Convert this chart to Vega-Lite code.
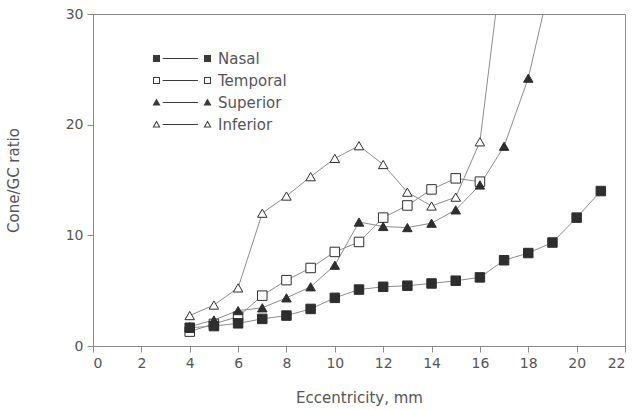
{
  "$schema": "https://vega.github.io/schema/vega-lite/v6.json",
  "width": 532,
  "height": 332,
  "autosize": {"type": "none"},
  "padding": {"left": 93, "top": 14, "right": 9, "bottom": 64},
  "background": "white",
  "config": {
    "font": "DejaVu Sans",
    "view": {"stroke": "#8a8a8a", "strokeWidth": 1},
    "axis": {
      "domainColor": "#8a8a8a",
      "tickColor": "#8a8a8a",
      "labelColor": "#555555",
      "titleColor": "#555555",
      "labelFontSize": 14,
      "titleFontSize": 15,
      "labelFont": "DejaVu Sans",
      "titleFont": "DejaVu Sans",
      "titleFontWeight": "normal",
      "grid": false,
      "tickSize": 6
    }
  },
  "data": {
    "values": [
      {"series": "Inferior", "eccentricity": 4, "ratio": 2.75},
      {"series": "Inferior", "eccentricity": 5, "ratio": 3.7},
      {"series": "Inferior", "eccentricity": 6, "ratio": 5.25},
      {"series": "Inferior", "eccentricity": 7, "ratio": 12.0},
      {"series": "Inferior", "eccentricity": 8, "ratio": 13.55},
      {"series": "Inferior", "eccentricity": 9, "ratio": 15.3},
      {"series": "Inferior", "eccentricity": 10, "ratio": 16.95},
      {"series": "Inferior", "eccentricity": 11, "ratio": 18.1},
      {"series": "Inferior", "eccentricity": 12, "ratio": 16.4},
      {"series": "Inferior", "eccentricity": 13, "ratio": 13.9},
      {"series": "Inferior", "eccentricity": 14, "ratio": 12.65},
      {"series": "Inferior", "eccentricity": 15, "ratio": 13.45},
      {"series": "Inferior", "eccentricity": 16, "ratio": 18.45},
      {"series": "Inferior", "eccentricity": 17, "ratio": 36.2},
      {"series": "Temporal", "eccentricity": 4, "ratio": 1.3},
      {"series": "Temporal", "eccentricity": 5, "ratio": 2.0},
      {"series": "Temporal", "eccentricity": 6, "ratio": 2.65},
      {"series": "Temporal", "eccentricity": 7, "ratio": 4.55},
      {"series": "Temporal", "eccentricity": 8, "ratio": 5.95},
      {"series": "Temporal", "eccentricity": 9, "ratio": 7.05},
      {"series": "Temporal", "eccentricity": 10, "ratio": 8.5},
      {"series": "Temporal", "eccentricity": 11, "ratio": 9.4},
      {"series": "Temporal", "eccentricity": 12, "ratio": 11.6},
      {"series": "Temporal", "eccentricity": 13, "ratio": 12.7},
      {"series": "Temporal", "eccentricity": 14, "ratio": 14.15},
      {"series": "Temporal", "eccentricity": 15, "ratio": 15.15},
      {"series": "Temporal", "eccentricity": 16, "ratio": 14.85},
      {"series": "Superior", "eccentricity": 4, "ratio": 1.75},
      {"series": "Superior", "eccentricity": 5, "ratio": 2.35},
      {"series": "Superior", "eccentricity": 6, "ratio": 3.2},
      {"series": "Superior", "eccentricity": 7, "ratio": 3.45},
      {"series": "Superior", "eccentricity": 8, "ratio": 4.35},
      {"series": "Superior", "eccentricity": 9, "ratio": 5.35},
      {"series": "Superior", "eccentricity": 10, "ratio": 7.3},
      {"series": "Superior", "eccentricity": 11, "ratio": 11.2},
      {"series": "Superior", "eccentricity": 12, "ratio": 10.8},
      {"series": "Superior", "eccentricity": 13, "ratio": 10.7},
      {"series": "Superior", "eccentricity": 14, "ratio": 11.1},
      {"series": "Superior", "eccentricity": 15, "ratio": 12.3},
      {"series": "Superior", "eccentricity": 16, "ratio": 14.55},
      {"series": "Superior", "eccentricity": 17, "ratio": 18.05},
      {"series": "Superior", "eccentricity": 18, "ratio": 24.2},
      {"series": "Superior", "eccentricity": 19, "ratio": 33.7},
      {"series": "Nasal", "eccentricity": 4, "ratio": 1.65},
      {"series": "Nasal", "eccentricity": 5, "ratio": 1.8},
      {"series": "Nasal", "eccentricity": 6, "ratio": 2.05},
      {"series": "Nasal", "eccentricity": 7, "ratio": 2.45},
      {"series": "Nasal", "eccentricity": 8, "ratio": 2.75},
      {"series": "Nasal", "eccentricity": 9, "ratio": 3.35},
      {"series": "Nasal", "eccentricity": 10, "ratio": 4.35},
      {"series": "Nasal", "eccentricity": 11, "ratio": 5.1},
      {"series": "Nasal", "eccentricity": 12, "ratio": 5.35},
      {"series": "Nasal", "eccentricity": 13, "ratio": 5.45},
      {"series": "Nasal", "eccentricity": 14, "ratio": 5.65},
      {"series": "Nasal", "eccentricity": 15, "ratio": 5.9},
      {"series": "Nasal", "eccentricity": 16, "ratio": 6.2},
      {"series": "Nasal", "eccentricity": 17, "ratio": 7.75},
      {"series": "Nasal", "eccentricity": 18, "ratio": 8.4},
      {"series": "Nasal", "eccentricity": 19, "ratio": 9.35},
      {"series": "Nasal", "eccentricity": 20, "ratio": 11.6},
      {"series": "Nasal", "eccentricity": 21, "ratio": 14.0}
    ]
  },
  "encoding": {
    "x": {
      "field": "eccentricity",
      "type": "quantitative",
      "scale": {"domain": [0, 22], "nice": false, "zero": false},
      "axis": {
        "values": [0, 2, 4, 6, 8, 10, 12, 14, 16, 18, 20, 22],
        "title": "Eccentricity, mm",
        "labelPadding": 4,
        "titleY": 51,
        "titleBaseline": "middle"
      }
    },
    "y": {
      "field": "ratio",
      "type": "quantitative",
      "scale": {"domain": [0, 30], "nice": false},
      "axis": {
        "values": [0, 10, 20, 30],
        "title": "Cone/GC ratio",
        "labelPadding": 4,
        "titleX": -80,
        "titleY": 166,
        "titleAngle": 270,
        "titleAlign": "center",
        "titleBaseline": "middle"
      }
    }
  },
  "layer": [
    {
      "mark": {"type": "line", "color": "#8c8c8c", "strokeWidth": 1, "clip": true},
      "encoding": {"detail": {"field": "series"}}
    },
    {
      "mark": {"type": "point", "filled": false, "stroke": "#2e2e2e", "strokeWidth": 1, "opacity": 1, "size": 90, "clip": true},
      "encoding": {
        "shape": {
          "field": "series",
          "type": "nominal",
          "scale": {
            "domain": ["Nasal", "Temporal", "Superior", "Inferior"],
            "range": ["square", "square", "triangle-up", "triangle-up"]
          },
          "legend": null
        },
        "fill": {
          "field": "series",
          "type": "nominal",
          "scale": {
            "domain": ["Nasal", "Temporal", "Superior", "Inferior"],
            "range": ["#2e2e2e", "#ffffff", "#2e2e2e", "#ffffff"]
          },
          "legend": null
        }
      }
    },
    {
      "transform": [{"filter": "false"}],
      "mark": {"type": "point", "filled": true, "color": "#3a3a3a", "strokeWidth": 0, "opacity": 1, "size": 64},
      "encoding": {
        "shape": {
          "field": "series",
          "type": "nominal",
          "scale": {
            "domain": ["Nasal", "Temporal", "Superior", "Inferior"],
            "range": [
              "M-13.625,-0.875H-11.875V0.875H-13.625ZM-11.2,-0.1H-2.4V0.1H-11.2ZM-0.875,-0.875H0.875V0.875H-0.875Z",
              "M-13.625,-0.875H-11.875V0.875H-13.625ZM-13.375,-0.625V0.625H-12.125V-0.625ZM-11.2,-0.1H-2.4V0.1H-11.2ZM-0.875,-0.875H0.875V0.875H-0.875ZM-0.625,-0.625V0.625H0.625V-0.625Z",
              "M-12.75,-1L-11.75,0.75L-13.75,0.75ZM-11.2,-0.1H-2.4V0.1H-11.2ZM0,-1L1,0.75L-1,0.75Z",
              "M-12.75,-1L-11.75,0.75L-13.75,0.75ZM-12.75,-0.5L-13.32,0.5L-12.18,0.5ZM-11.2,-0.1H-2.4V0.1H-11.2ZM0,-1L1,0.75L-1,0.75ZM0,-0.5L-0.57,0.5L0.57,0.5Z"
            ]
          },
          "legend": {
            "orient": "none",
            "legendX": 107,
            "legendY": 37,
            "title": null,
            "padding": 0,
            "symbolSize": 64,
            "symbolStrokeWidth": 0,
            "symbolFillColor": "#3a3a3a",
            "labelFontSize": 15,
            "labelFont": "DejaVu Sans",
            "labelColor": "#555555",
            "labelOffset": 3,
            "rowPadding": 6
          }
        }
      }
    }
  ],
  "resolve": {"scale": {"shape": "independent"}, "legend": {"shape": "independent"}}
}
